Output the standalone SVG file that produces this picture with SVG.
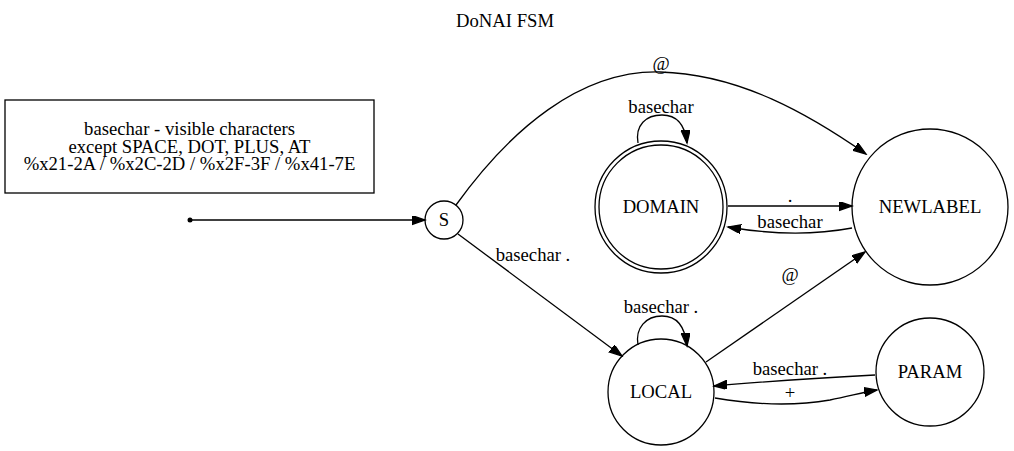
<svg xmlns="http://www.w3.org/2000/svg" width="1014" height="451" viewBox="0 0 1014 451">
<defs>
<style>
text{font-family:"Liberation Serif","Times New Roman",serif;font-size:18.67px;fill:#000;text-anchor:middle}
.n{fill:none;stroke:#000;stroke-width:1.3}
.e{fill:none;stroke:#000;stroke-width:1.3;marker-end:url(#ah)}
</style>
<marker id="ah" markerUnits="userSpaceOnUse" markerWidth="15" markerHeight="10" refX="13" refY="4.5" orient="auto">
<path d="M0,0 L13,4.5 L0,9 z" fill="#000" stroke="#000" stroke-width="1.3"/>
</marker>
</defs>
<rect width="1014" height="451" fill="#fff"/>
<text x="505" y="27">DoNAI FSM</text>
<g id="legend">
<rect class="n" x="5" y="100" width="369" height="93"/>
<text x="189.5" y="135">basechar - visible characters</text>
<text x="189.5" y="153">except SPACE, DOT, PLUS, AT</text>
<text x="189.5" y="170">%x21-2A / %x2C-2D / %x2F-3F / %x41-7E</text>
</g>
<g id="start"><circle cx="190" cy="220" r="2.5" fill="#000"/></g>
<g id="S"><circle class="n" cx="444" cy="220" r="19"/><text x="444" y="226">S</text></g>
<g id="DOMAIN"><circle class="n" cx="661" cy="207" r="66"/><circle class="n" cx="661" cy="207" r="62"/><text x="661" y="213">DOMAIN</text></g>
<g id="NEWLABEL"><circle class="n" cx="930" cy="207" r="78"/><text x="930" y="213">NEWLABEL</text></g>
<g id="LOCAL"><circle class="n" cx="661" cy="392" r="53"/><text x="661" y="398">LOCAL</text></g>
<g id="PARAM"><circle class="n" cx="930" cy="372" r="54"/><text x="930" y="378">PARAM</text></g>
<g id="edges">
<path class="e" d="M192,220 L425,220"/>
<path class="e" d="M456,205 C510,130 580,70 660,72 C740,74 810,115 866,154"/>
<text x="661" y="70">@</text>
<path class="e" d="M638,143 C635,125 646,115 662,115 C676,115 685,124 687,143"/>
<text x="661" y="113">basechar</text>
<path class="e" d="M728,206 L852,206"/>
<text x="790" y="202">.</text>
<path class="e" d="M852,228 C820,234 780,236 728,227"/>
<text x="790" y="228">basechar</text>
<path class="e" d="M458,234 L622,356"/>
<text x="533" y="261">basechar .</text>
<path class="e" d="M638,345 C635,328 646,316 662,316 C676,316 685,326 687,346"/>
<text x="661" y="313">basechar .</text>
<path class="e" d="M706,362 L865,252"/>
<text x="790" y="281">@</text>
<path class="e" d="M875,375 C820,378 770,381 714,386"/>
<text x="790" y="375">basechar .</text>
<path class="e" d="M715,398 C750,404 790,407 830,400 C850,396 864,392 877,390"/>
<text x="790" y="399">+</text>
</g>
</svg>
